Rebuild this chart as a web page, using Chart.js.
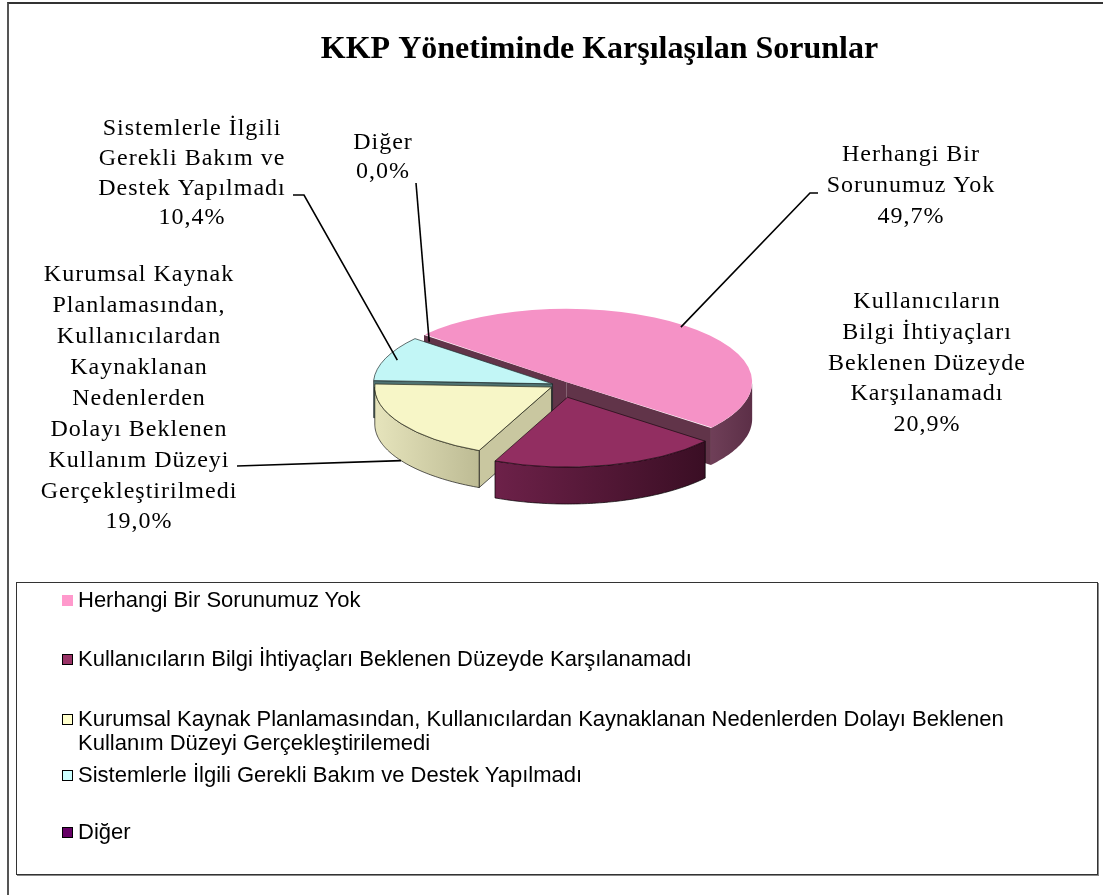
<!DOCTYPE html>
<html><head><meta charset="utf-8">
<script src="https://cdn.jsdelivr.net/npm/chart.js@4.4.1/dist/chart.umd.min.js"></script>
<style>
html,body{margin:0;padding:0;background:#fff;overflow:hidden;width:1103px;height:895px;}
#frame{position:absolute;left:7px;top:2px;width:1120px;height:920px;border-left:2px solid #555;border-top:2px solid #333;}
#c{position:absolute;left:0;top:0;}
#legend{position:absolute;left:16px;top:582px;width:1080px;height:291px;border:1px solid #333;box-shadow:1px 1px 0 #888;font-family:"Liberation Sans",Arial,sans-serif;font-size:22px;color:#000;background:#fff;}
.item{position:absolute;left:45px;display:flex;align-items:flex-start;line-height:24px;}
.sw{width:11px;height:11px;box-sizing:border-box;border:1px solid #000;margin-top:7px;margin-right:5px;flex:none}
.txt{max-width:975px;}
</style></head><body>
<div id="frame"></div>
<canvas id="c" width="1103" height="895"></canvas>
<div id="legend"></div>
<script>
// ---- data ----
const chartTitle = 'KKP Yönetiminde Karşılaşılan Sorunlar';
const categories = [
  'Herhangi Bir Sorunumuz Yok',
  'Kullanıcıların Bilgi İhtiyaçları Beklenen Düzeyde Karşılanamadı',
  'Kurumsal Kaynak Planlamasından, Kullanıcılardan Kaynaklanan Nedenlerden Dolayı Beklenen Kullanım Düzeyi Gerçekleştirilemedi',
  'Sistemlerle İlgili Gerekli Bakım ve Destek Yapılmadı',
  'Diğer'
];
const values = [49.7, 20.9, 19.0, 10.4, 0.0];
const dataLabelLines = [
  ['Herhangi Bir', 'Sorunumuz Yok'],
  ['Kullanıcıların', 'Bilgi İhtiyaçları', 'Beklenen Düzeyde', 'Karşılanamadı'],
  ['Kurumsal Kaynak', 'Planlamasından,', 'Kullanıcılardan', 'Kaynaklanan', 'Nedenlerden', 'Dolayı Beklenen', 'Kullanım Düzeyi', 'Gerçekleştirilmedi'],
  ['Sistemlerle İlgili', 'Gerekli Bakım ve', 'Destek Yapılmadı'],
  ['Diğer']
];

// ---- styles ----
const topColors = ['#F592C6', '#922E61', '#F7F6C7', '#C2F6F6', '#660066'];
const topBorders = ['rgba(0,0,0,0)', '#1a0a12', '#2a2a1a', '#203030', '#000'];
const topBorderWidths = [0, 1, 1, 1, 1];
const sliceOffsets = [40, 128, 40, 32, 0];
const wallLight = ['#6f3f58', '#6d2149', '#e6e4bc', '#7fa5a5', '#440044'];
const wallDark = ['#5c2f47', '#3a0e24', '#bdbb94', '#5e7f7f', '#330033'];
const faceColors = ['#613449', '#5a1a3b', '#c9c7a0', '#4f7272', '#330033'];
const wallStroke = ['rgba(0,0,0,0)', 'rgba(0,0,0,0.85)', 'rgba(0,0,0,0.8)', 'rgba(0,0,0,0.6)', 'rgba(0,0,0,0.6)'];
const legendColors = ['#FF99CC', '#993366', '#FFFFCC', '#CCFFFF', '#660066'];
const legendBorders = ['#FF99CC', '#000', '#000', '#000', '#000'];
const legendRowTop = [5, 64, 124, 180, 237];

// ---- layout ----
const PIE = {x: 560, y: 385, tilt: 0.394, depth: 37};
const labelLayout = [
  {cx: 911, y: 155, lh: 31, line: [[818, 193], [810, 193]], reach: 0.97, drop: 0},
  {cx: 927, y: 302, lh: 30.7, line: null},
  {cx: 139, y: 275, lh: 30.9, line: [[237, 466]], reach: 1.0, drop: 37},
  {cx: 192, y: 129, lh: 29.7, line: [[293, 195], [304, 195]], reach: 0.93, drop: 0},
  {cx: 383, y: 143, lh: 29, line: [[416, 183]], reach: 0.97, drop: 0}
];

function fmtPct(v) { return v.toFixed(1).replace('.', ',') + '%'; }

function sliceGeom(el) {
  const p = el.getProps(['x', 'y', 'startAngle', 'endAngle', 'outerRadius', 'circumference']);
  const off = (el.options.offset || 0) / 4;
  const mid = (p.startAngle + p.endAngle) / 2;
  const fix = 1 - Math.sin(Math.min(Math.PI, p.circumference || 0));
  return {
    cx: p.x, cy: p.y, a: p.startAngle, b: p.endAngle, mid: mid, circ: p.circumference,
    r: p.outerRadius + off * fix,
    ox: Math.cos(mid) * off, oy: Math.sin(mid) * off
  };
}
function proj(ux, uy, h) { return [PIE.x + ux, PIE.y + uy * PIE.tilt + h]; }

const pie3d = {
  id: 'pie3d',
  beforeDatasetsDraw(chart) {
    const ctx = chart.ctx;
    const arcs = chart.getDatasetMeta(0).data;
    const faces = [];
    arcs.forEach((el, i) => {
      const g = sliceGeom(el);
      if (!(g.circ > 0)) return;
      for (let n = -2; n <= 2; n++) {
        const lo = Math.max(g.a, 2 * Math.PI * n), hi = Math.min(g.b, 2 * Math.PI * n + Math.PI);
        if (hi > lo) {
          const top = [], bot = [];
          const steps = Math.max(4, Math.ceil((hi - lo) / (Math.PI / 180)));
          for (let s = 0; s <= steps; s++) {
            const t = lo + (hi - lo) * s / steps;
            top.push(proj(g.ox + g.r * Math.cos(t), g.oy + g.r * Math.sin(t), 0));
            bot.push(proj(g.ox + g.r * Math.cos(t), g.oy + g.r * Math.sin(t), PIE.depth));
          }
          const pts = top.concat(bot.reverse());
          const key = top.reduce((m, q) => m + q[1], 0) / top.length;
          faces.push({pts, key, i, type: 'wall'});
        }
      }
      const addFace = (t) => {
        const c0 = proj(g.ox, g.oy, 0), c1 = proj(g.ox + g.r * Math.cos(t), g.oy + g.r * Math.sin(t), 0);
        const pts = [c0, c1, [c1[0], c1[1] + PIE.depth], [c0[0], c0[1] + PIE.depth]];
        faces.push({pts, key: (c0[1] + c1[1]) / 2, i, type: 'face'});
      };
      if (Math.cos(g.a) < 0) addFace(g.a);
      if (Math.cos(g.b) > 0) addFace(g.b);
    });
    faces.sort((p, q) => p.key - q.key);
    faces.forEach(f => {
      ctx.beginPath();
      f.pts.forEach((q, j) => j ? ctx.lineTo(q[0], q[1]) : ctx.moveTo(q[0], q[1]));
      ctx.closePath();
      if (f.type === 'wall') {
        const xs = f.pts.map(q => q[0]);
        const gr = ctx.createLinearGradient(Math.min(...xs), 0, Math.max(...xs), 0);
        gr.addColorStop(0, wallLight[f.i]);
        gr.addColorStop(1, wallDark[f.i]);
        ctx.fillStyle = gr;
      } else {
        ctx.fillStyle = faceColors[f.i];
      }
      ctx.fill();
      ctx.lineWidth = 0.8;
      ctx.strokeStyle = wallStroke[f.i];
      ctx.stroke();
    });
    const g0 = sliceGeom(arcs[0]);
    ctx.save();
    ctx.translate(PIE.x, PIE.y);
    ctx.scale(1, PIE.tilt);
    ctx.translate(-g0.cx, -g0.cy);
  },
  afterDatasetsDraw(chart) {
    const ctx = chart.ctx;
    ctx.restore();
    const arcs = chart.getDatasetMeta(0).data;
    const vals = chart.data.datasets[0].data;
    ctx.save();
    ctx.strokeStyle = '#000';
    ctx.lineWidth = 1.6;
    labelLayout.forEach((L, i) => {
      if (!L.line) return;
      const g = sliceGeom(arcs[i]);
      const end = proj(g.ox + g.r * L.reach * Math.cos(g.mid), g.oy + g.r * L.reach * Math.sin(g.mid), L.drop);
      ctx.beginPath();
      L.line.forEach((q, j) => j ? ctx.lineTo(q[0], q[1]) : ctx.moveTo(q[0], q[1]));
      ctx.lineTo(end[0], end[1]);
      ctx.stroke();
    });
    ctx.fillStyle = '#000';
    ctx.font = '24px "Liberation Serif", "Times New Roman", serif';
    ctx.textAlign = 'center';
    ctx.textBaseline = 'middle';
    try { ctx.letterSpacing = '1px'; } catch (e) {}
    labelLayout.forEach((L, i) => {
      const lines = dataLabelLines[i].concat([fmtPct(vals[i])]);
      lines.forEach((t, j) => ctx.fillText(t, L.cx, L.y + j * L.lh));
    });
    ctx.restore();
  }
};

new Chart(document.getElementById('c'), {
  type: 'pie',
  data: {
    labels: categories,
    datasets: [{
      data: values,
      backgroundColor: topColors,
      borderColor: topBorders,
      borderWidth: topBorderWidths,
      offset: sliceOffsets,
      hoverOffset: 0,
      clip: false
    }]
  },
  options: {
    responsive: false,
    animation: false,
    events: [],
    rotation: -50,
    radius: 176,
    layout: {padding: {left: 96, right: 0, top: 0, bottom: 200}},
    plugins: {
      legend: {display: false},
      tooltip: {enabled: false},
      title: {
        display: true,
        text: chartTitle,
        color: '#000',
        font: {family: '"Liberation Serif", "Times New Roman", serif', size: 32, weight: 'bold', lineHeight: 1.2},
        padding: {top: 31, bottom: 0}
      }
    }
  },
  plugins: [pie3d]
});

const legend = document.getElementById('legend');
categories.forEach((c, i) => {
  const it = document.createElement('div');
  it.className = 'item';
  it.style.top = legendRowTop[i] + 'px';
  const sw = document.createElement('span');
  sw.className = 'sw';
  sw.style.background = legendColors[i];
  sw.style.borderColor = legendBorders[i];
  const tx = document.createElement('span');
  tx.className = 'txt';
  tx.textContent = c;
  it.appendChild(sw);
  it.appendChild(tx);
  legend.appendChild(it);
});
</script>
</body></html>
